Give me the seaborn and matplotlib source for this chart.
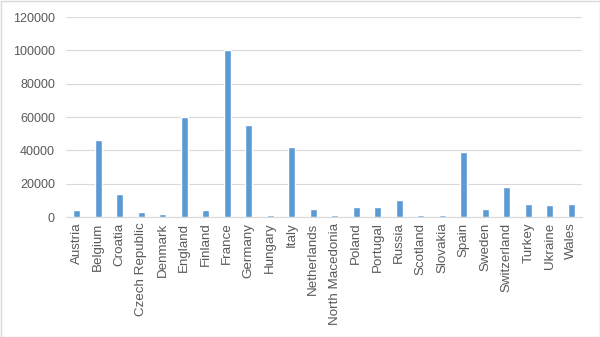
import matplotlib
matplotlib.use("Agg")
import matplotlib.pyplot as plt
import seaborn as sns
import pandas as pd
from matplotlib.patches import Rectangle

countries = ["Austria", "Belgium", "Croatia", "Czech Republic", "Denmark", "England",
             "Finland", "France", "Germany", "Hungary", "Italy", "Netherlands",
             "North Macedonia", "Poland", "Portugal", "Russia", "Scotland", "Slovakia",
             "Spain", "Sweden", "Switzerland", "Turkey", "Ukraine", "Wales"]
values = [4000, 46000, 14000, 3000, 2000, 60000, 4000, 100000, 55000, 1000, 42000, 5000,
          1000, 6000, 6000, 10000, 1000, 1000, 39000, 5000, 18000, 8000, 7500, 8000]
yticks = [0, 20000, 40000, 60000, 80000, 100000, 120000]

df = pd.DataFrame({"country": countries, "value": values})

sns.set_theme(style="white")
plt.rcParams['font.family'] = ['Liberation Sans', 'DejaVu Sans']

fig = plt.figure(figsize=(6, 3.37), dpi=100)
ax = fig.add_axes([66/600, 1 - 217/337, (582-66)/600, 200/337])

sns.barplot(data=df, x="country", y="value", color="#5B9BD5", width=0.33,
            saturation=1, ax=ax, zorder=3)

ax.set_ylim(0, 120000)
ax.set_yticks(yticks)
ax.set_yticklabels([str(v) for v in yticks])
ax.set_xlim(-0.5, len(countries) - 0.5)
ax.yaxis.grid(True, color="#D9D9D9", linewidth=0.8, zorder=0)
ax.set_axisbelow(True)
for s in ["top", "right", "left"]:
    ax.spines[s].set_visible(False)
ax.spines["bottom"].set_color("#D9D9D9")
ax.spines["bottom"].set_linewidth(0.8)
ax.set_xlabel("")
ax.set_ylabel("")
ax.tick_params(axis="x", rotation=90, labelsize=9.6, colors="#595959", length=0, pad=4)
ax.tick_params(axis="y", labelsize=9, colors="#595959", length=0, pad=8)

fig.patches.append(Rectangle((0.5/600, 0.5/337), 1 - 1/600, 1 - 1/337,
                             transform=fig.transFigure, fill=False,
                             edgecolor="#D9D9D9", linewidth=1))

fig.savefig("out.png", dpi=100)
